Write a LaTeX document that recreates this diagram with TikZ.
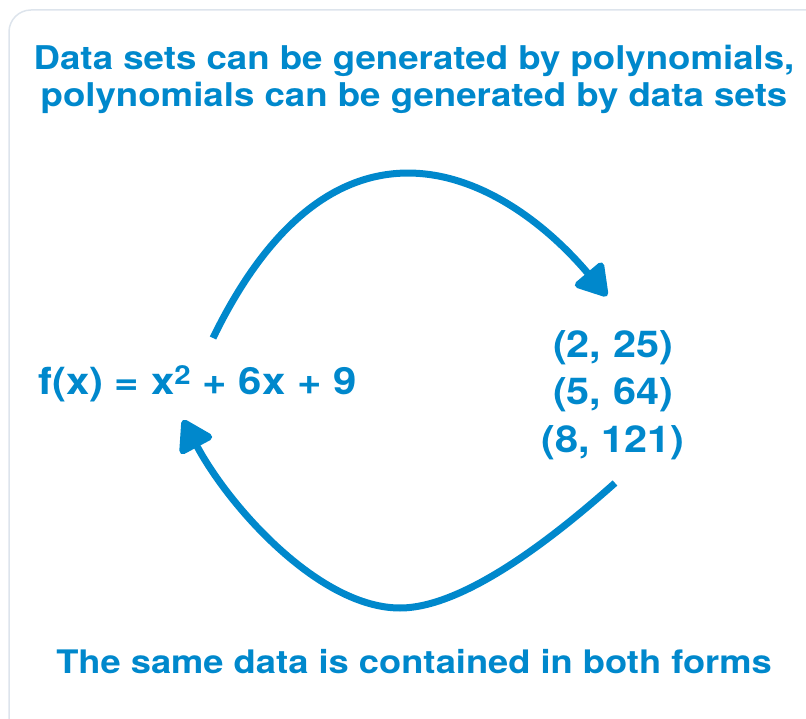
\documentclass[tikz,border=0pt]{standalone}
\usepackage{fontspec}
\setmainfont{TeX Gyre Heros}[FakeStretch=1.12]
\usetikzlibrary{arrows.meta}
\definecolor{ablue}{HTML}{0088CC}
\definecolor{cardline}{HTML}{DDE4EC}
\tikzset{
  txt/.style={text=ablue, font=\bfseries\fontsize{32.4}{37.5}\selectfont, inner sep=0pt},
  bigarrow/.style={draw=ablue, line width=7pt, -{Triangle[length=34pt,width=40pt,round]}}
}
\begin{document}
\begin{tikzpicture}[x=1pt,y=-1pt]
\useasboundingbox (0,0) rectangle (806,719);
\draw[cardline, line width=1.5pt, rounded corners=22pt] (9,10) rectangle (830,740);
\node[txt, align=center, anchor=base, font=\bfseries\fontsize{32.7}{37.5}\selectfont] (title) at (414,107) {Data sets can be generated by polynomials,\\polynomials can be generated by data sets};
\node[txt, anchor=base west, font=\bfseries\fontsize{37.4}{40}\selectfont] (poly) at (38,394) {f(x) = x\textsuperscript{2} + 6x + 9};
\node[txt, align=center, anchor=base, font=\bfseries\fontsize{37}{47.5}\selectfont] (pts) at (613,452) {(2, 25)\\(5, 64)\\(8, 121)};
\node[txt, anchor=base] (foot) at (414,673) {The same data is contained in both forms};
\coordinate (a1s) at (213,338);
\coordinate (a1e) at (607,296);
\coordinate (a2s) at (615,483);
\coordinate (a2m) at (400,608);
\coordinate (a2e) at (183,420);
\draw[bigarrow] (a1s) .. controls (337,83) and (505,175) .. (a1e);
\draw[bigarrow] (a2s) .. controls (570,523) and (470,608) .. (a2m) .. controls (320,608) and (230,508) .. (a2e);
\end{tikzpicture}
\end{document}
